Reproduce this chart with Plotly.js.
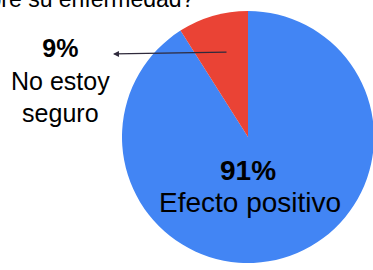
<!DOCTYPE html>
<html>
<head>
<meta charset="utf-8">
<script src="https://cdn.plot.ly/plotly-3.0.1.min.js"></script>
<style>
html,body{margin:0;padding:0;overflow:hidden;background:#fff;}
#chart{width:380px;height:270px;}
</style>
</head>
<body>
<div id="chart"></div>
<script>
const titleText = "¿Qué efecto tiene sobre su enfermedad?";
const labels = ["Efecto positivo", "No estoy seguro"];
const labelLines = [["Efecto positivo"], ["No estoy", "seguro"]];
const values = [91, 9];
const colors = ["#4285F4", "#EA4335"];

const total = values.reduce((a, b) => a + b, 0);
const pct = values.map(v => Math.round(v / total * 100) + "%");

// pixel -> paper helpers (plot area: x 122..374, y 11..263)
const L = 122, T = 11, S = 252;
const px = X => (X - L) / S;
const py = Y => (T + S - Y) / S;
const FONT = "Arial, 'Liberation Sans', sans-serif";

const data = [{
  type: "pie",
  labels: labels,
  values: values,
  sort: false,
  direction: "clockwise",
  rotation: 0,
  marker: {colors: colors, line: {width: 0}},
  textinfo: "none",
  hoverinfo: "label+percent",
  showlegend: false
}];

const layout = {
  width: 380, height: 270,
  margin: {l: L, r: 380 - L - S, t: T, b: 270 - T - S},
  paper_bgcolor: "#fff",
  showlegend: false,
  annotations: [
    {text: titleText, xref: "paper", yref: "paper", x: px(196), y: py(-1),
     xanchor: "right", yanchor: "middle", showarrow: false,
     font: {family: FONT, size: 23, color: "#000"}},
    {text: "<b>" + pct[1] + "</b><br>" + labelLines[1].join("<br>"),
     xref: "paper", yref: "paper", x: px(60), y: py(80),
     xanchor: "center", yanchor: "middle", align: "center", showarrow: false,
     font: {family: FONT, size: 25, color: "#000"}},
    {text: "", xref: "paper", yref: "paper", x: px(113), y: py(54),
     showarrow: true, axref: "pixel", ayref: "pixel", ax: 115, ay: -2,
     arrowhead: 2, arrowsize: 1, arrowwidth: 1.2, arrowcolor: "#2f2a3c", standoff: 0},
    {text: "<b>" + pct[0] + "</b>", xref: "paper", yref: "paper", x: px(248), y: py(170),
     xanchor: "center", yanchor: "middle", showarrow: false,
     font: {family: FONT, size: 28, color: "#000"}},
    {text: labelLines[0][0], xref: "paper", yref: "paper", x: px(250), y: py(202),
     xanchor: "center", yanchor: "middle", showarrow: false,
     font: {family: FONT, size: 28, color: "#000"}}
  ]
};

Plotly.newPlot("chart", data, layout, {displayModeBar: false, staticPlot: true});
</script>
</body>
</html>
